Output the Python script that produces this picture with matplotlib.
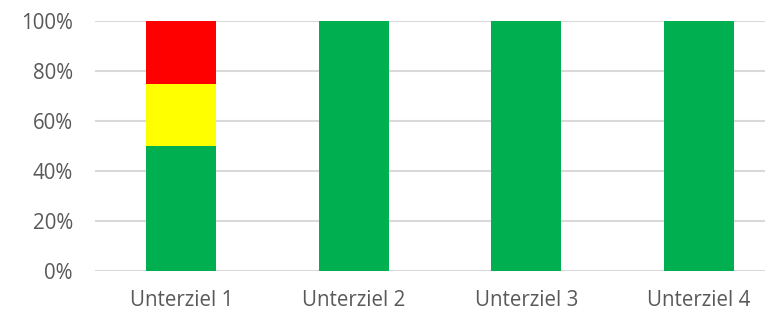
import numpy as np
import matplotlib
matplotlib.use('Agg')
import matplotlib.pyplot as plt
from matplotlib.ticker import PercentFormatter

categories = ['Unterziel 1', 'Unterziel 2', 'Unterziel 3', 'Unterziel 4']
green = [0.50, 1.00, 1.00, 1.00]
yellow = [0.25, 0.00, 0.00, 0.00]
red = [0.25, 0.00, 0.00, 0.00]

plt.rcParams['font.family'] = ['Open Sans', 'DejaVu Sans']

fig = plt.figure(figsize=(7.65, 3.12), dpi=100)
# plot area runs past the right edge, as in the reference
ax = fig.add_axes([95 / 765, 41 / 312, 690 / 765, 250 / 312])

x = np.arange(len(categories))
w = 0.405
g = np.array(green)
yl = np.array(yellow)
ax.bar(x, green, w, color='#00B050', zorder=3)
ax.bar(x, yellow, w, bottom=g, color='#FFFF00', zorder=3)
ax.bar(x, red, w, bottom=g + yl, color='#FF0000', zorder=3)

ax.set_xlim(-0.5, 3.5)
ax.set_ylim(0, 1)
ax.set_yticks(np.linspace(0, 1, 6))
ax.yaxis.set_major_formatter(PercentFormatter(1.0, decimals=0))
ax.set_xticks(x)
ax.set_xticklabels(categories)
ax.grid(axis='y', color='#D9D9D9', linewidth=1.5, zorder=0)
ax.tick_params(length=0, labelsize=14.8, colors='#595959')
ax.tick_params(axis='y', pad=16)
ax.tick_params(axis='x', pad=14)
for s in ax.spines.values():
    s.set_visible(False)

fig.savefig('out.png', dpi=100)
